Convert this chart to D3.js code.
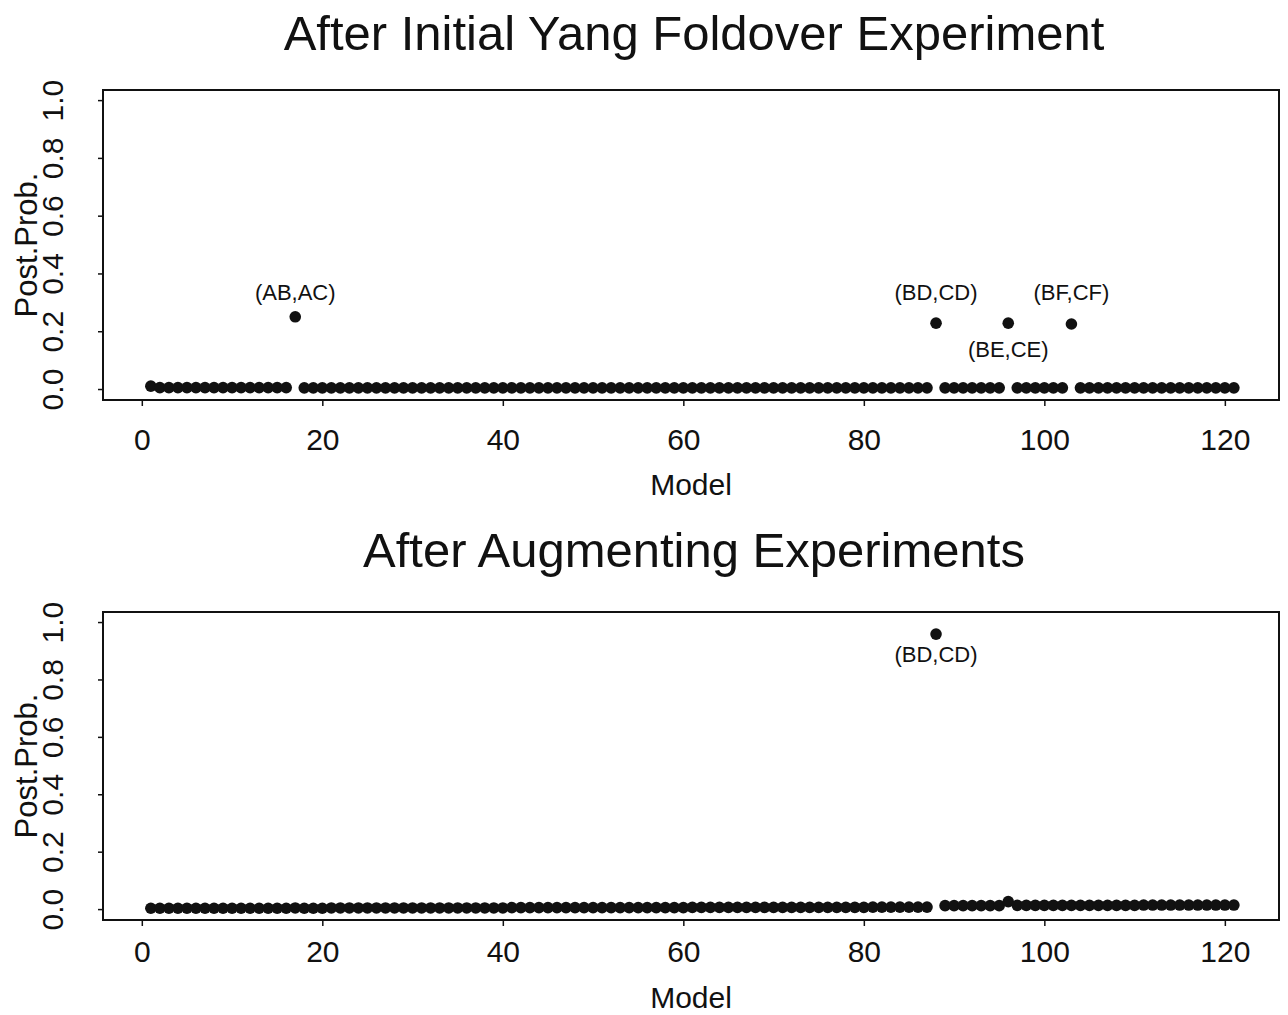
<!DOCTYPE html>
<html>
<head>
<meta charset="utf-8">
<script src="https://cdn.jsdelivr.net/npm/d3@7"></script>
<style>
  body { margin: 0; background: #fff; }
  text { font-family: "Liberation Sans", Arial, Helvetica, sans-serif; fill: #111; }
  .tick line { stroke: #111; stroke-width: 1.5; }
</style>
</head>
<body>
<div id="chart"></div>
<script>
// posterior probability of each of the 121 models
var modelIds = d3.range(1, 122)

var initialProb = [
  0.010, 0.005, 0.005, 0.005, 0.005, 0.005, 0.005, 0.005, 0.005, 0.005,
  0.005, 0.005, 0.005, 0.005, 0.005, 0.005, 0.250, 0.004, 0.004, 0.004,
  0.004, 0.004, 0.004, 0.004, 0.004, 0.004, 0.004, 0.004, 0.004, 0.004,
  0.004, 0.004, 0.004, 0.004, 0.004, 0.004, 0.004, 0.004, 0.004, 0.004,
  0.004, 0.004, 0.004, 0.004, 0.004, 0.004, 0.004, 0.004, 0.004, 0.004,
  0.004, 0.004, 0.004, 0.004, 0.004, 0.004, 0.004, 0.004, 0.004, 0.004,
  0.004, 0.004, 0.004, 0.004, 0.004, 0.004, 0.004, 0.004, 0.004, 0.004,
  0.004, 0.004, 0.004, 0.004, 0.004, 0.004, 0.004, 0.004, 0.004, 0.004,
  0.004, 0.004, 0.004, 0.004, 0.004, 0.004, 0.004, 0.228, 0.004, 0.004,
  0.004, 0.004, 0.004, 0.004, 0.004, 0.228, 0.004, 0.004, 0.004, 0.004,
  0.004, 0.004, 0.225, 0.004, 0.004, 0.004, 0.004, 0.004, 0.004, 0.004,
  0.004, 0.004, 0.004, 0.004, 0.004, 0.004, 0.004, 0.004, 0.004, 0.004,
  0.004
]

var augmentedProb = [
  0.003, 0.003, 0.003, 0.003, 0.003, 0.003, 0.003, 0.003, 0.003, 0.003,
  0.003, 0.003, 0.003, 0.003, 0.003, 0.003, 0.004, 0.003, 0.003, 0.003,
  0.004, 0.004, 0.004, 0.004, 0.004, 0.004, 0.004, 0.004, 0.004, 0.004,
  0.004, 0.004, 0.004, 0.004, 0.004, 0.004, 0.004, 0.004, 0.004, 0.004,
  0.005, 0.005, 0.005, 0.005, 0.005, 0.005, 0.005, 0.005, 0.005, 0.005,
  0.005, 0.005, 0.005, 0.005, 0.005, 0.005, 0.005, 0.005, 0.005, 0.005,
  0.006, 0.006, 0.006, 0.006, 0.006, 0.006, 0.006, 0.006, 0.006, 0.006,
  0.006, 0.006, 0.006, 0.006, 0.006, 0.006, 0.006, 0.006, 0.006, 0.006,
  0.007, 0.007, 0.007, 0.007, 0.007, 0.007, 0.007, 0.958, 0.012, 0.012,
  0.012, 0.012, 0.012, 0.012, 0.012, 0.026, 0.013, 0.013, 0.013, 0.013,
  0.013, 0.013, 0.013, 0.013, 0.013, 0.013, 0.013, 0.013, 0.013, 0.013,
  0.014, 0.014, 0.014, 0.014, 0.014, 0.014, 0.014, 0.014, 0.014, 0.014,
  0.014
]

// labelled models for each panel
var initialLabelModels = [17, 88, 96, 103]
var initialLabelText = ['(AB,AC)', '(BD,CD)', '(BE,CE)', '(BF,CF)']
var initialLabelSide = ['above', 'above', 'below', 'above']

var augmentedLabelModels = [88]
var augmentedLabelText = ['(BD,CD)']
var augmentedLabelSide = ['below']

var xTicks = [0, 20, 40, 60, 80, 100, 120]
var yTicks = [0.0, 0.2, 0.4, 0.6, 0.8, 1.0]

var W = 1288, H = 1015

var svg = d3.select('#chart')
  .append('svg')
  .attr('width', W)
  .attr('height', H)

// one panel = title + box + axes + dots + labels
function drawPanel(cfg) {
  var left = 103, right = 1279
  var x = d3.scaleLinear().domain([-4.3, 126]).range([left, right])
  var y = d3.scaleLinear().domain([-0.038, 1.035]).range([cfg.bottom, cfg.top])

  var g = svg.append('g')

  // title
  g.append('text')
    .attr('x', (left + right) / 2 + 3)
    .attr('y', cfg.titleY)
    .attr('text-anchor', 'middle')
    .style('font-size', '49px')
    .text(cfg.title)

  // x axis
  var xAxis = g.append('g')
    .attr('transform', 'translate(0,' + cfg.bottom + ')')
    .call(d3.axisBottom(x).tickValues(xTicks).tickFormat(d3.format('d'))
      .tickSize(6).tickSizeOuter(0).tickPadding(cfg.tickPad))
  xAxis.select('.domain').remove()
  xAxis.selectAll('text')
    .style('font-size', '30px')
    .attr('fill', '#111')

  g.append('text')
    .attr('x', (left + right) / 2)
    .attr('y', cfg.modelY)
    .attr('text-anchor', 'middle')
    .style('font-size', '30px')
    .text('Model')

  // y axis, labels turned like the original
  var yAxis = g.append('g')
    .attr('transform', 'translate(' + left + ',0)')
    .call(d3.axisLeft(y).tickValues(yTicks).tickFormat(d3.format('.1f'))
      .tickSize(5).tickSizeOuter(0))
  yAxis.select('.domain').remove()
  yAxis.selectAll('text')
    .attr('x', null).attr('dy', null)
    .attr('transform', 'translate(-40,0) rotate(-90)')
    .attr('text-anchor', 'middle')
    .style('font-size', '30px')
    .attr('fill', '#111')

  g.append('text')
    .attr('transform', 'translate(37,' + ((cfg.top + cfg.bottom) / 2) + ') rotate(-90)')
    .attr('text-anchor', 'middle')
    .style('font-size', '31px')
    .text('Post.Prob.')

  // frame
  g.append('rect')
    .attr('x', left)
    .attr('y', cfg.top)
    .attr('width', right - left)
    .attr('height', cfg.bottom - cfg.top)
    .attr('fill', 'none')
    .attr('stroke', '#111')
    .attr('stroke-width', 2)

  // dots
  g.selectAll('.dot')
    .data(modelIds)
    .enter()
    .append('circle')
    .attr('class', 'dot')
    .attr('cx', function(d) { return x(d); })
    .attr('cy', function(d, i) { return y(cfg.values[i]); })
    .attr('r', 5.8)
    .attr('fill', '#111')

  // labels above the dots share one line, set by the highest labelled dot
  var aboveTop = d3.max(cfg.labelModels, function(d) { return cfg.values[d - 1]; })

  g.selectAll('.lab')
    .data(cfg.labelModels)
    .enter()
    .append('text')
    .attr('class', 'lab')
    .attr('x', function(d) { return x(d); })
    .attr('y', function(d, i) {
      if (cfg.labelSide[i] == 'above') return y(aboveTop) - 17
      return y(cfg.values[d - 1]) + cfg.belowGap
    })
    .attr('text-anchor', 'middle')
    .style('font-size', '22px')
    .text(function(d, i) { return cfg.labelText[i]; })
}

drawPanel({
  title: 'After Initial Yang Foldover Experiment',
  titleY: 50,
  top: 90,
  bottom: 400,
  tickPad: 23,
  modelY: 495,
  belowGap: 34,
  values: initialProb,
  labelModels: initialLabelModels,
  labelText: initialLabelText,
  labelSide: initialLabelSide
})

drawPanel({
  title: 'After Augmenting Experiments',
  titleY: 567,
  top: 612,
  bottom: 920,
  tickPad: 15,
  modelY: 1008,
  belowGap: 28,
  values: augmentedProb,
  labelModels: augmentedLabelModels,
  labelText: augmentedLabelText,
  labelSide: augmentedLabelSide
})
</script>
</body>
</html>
